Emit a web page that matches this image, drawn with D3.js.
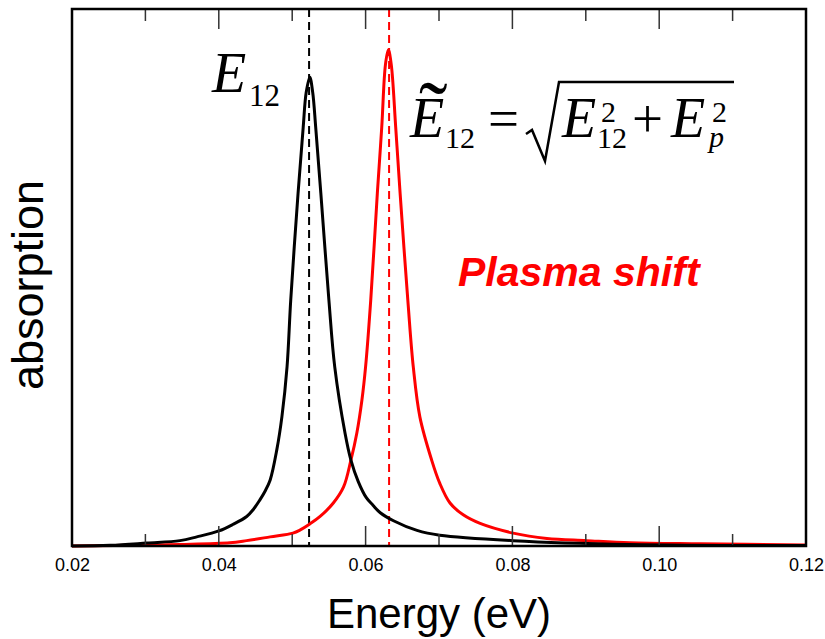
<!DOCTYPE html>
<html>
<head>
<meta charset="utf-8">
<script src="https://cdn.jsdelivr.net/npm/d3@7"></script>
<style>
  html, body { margin: 0; padding: 0; background: #fff; }
  svg { display: block; }
</style>
</head>
<body>
<svg id="chart" width="825" height="639"></svg>
<script>
// ---- data ----
const energyBlack = [0.0200, 0.0252, 0.0302, 0.0347, 0.0370, 0.0400, 0.0419, 0.0438, 0.0447, 0.0456, 0.0463, 0.0470, 0.0479, 0.0486, 0.0493, 0.0498, 0.0508, 0.0515, 0.0519, 0.0524, 0.0528, 0.0532, 0.0539, 0.0550, 0.0558, 0.0572, 0.0580, 0.0590, 0.0601, 0.0610, 0.0620, 0.0638, 0.0670, 0.0701, 0.0801, 0.0960, 0.1200];
const absBlack    = [0.000, 0.0013, 0.0056, 0.010, 0.017, 0.028, 0.040, 0.055, 0.068, 0.086, 0.102, 0.123, 0.179, 0.241, 0.334, 0.458, 0.657, 0.780, 0.844, 0.873, 0.844, 0.780, 0.657, 0.458, 0.333, 0.210, 0.160, 0.120, 0.090, 0.076, 0.062, 0.047, 0.029, 0.020, 0.010, 0.003, 0.001];

const energyRed = [0.0200, 0.0306, 0.0347, 0.0415, 0.0438, 0.0470, 0.0501, 0.0511, 0.0524, 0.0538, 0.0556, 0.0570, 0.0580, 0.0588, 0.0595, 0.0600, 0.0607, 0.0616, 0.0622, 0.0627, 0.0631, 0.0635, 0.0641, 0.0647, 0.0658, 0.0665, 0.0674, 0.0690, 0.0701, 0.0715, 0.0733, 0.0756, 0.0801, 0.0847, 0.0901, 0.0960, 0.1056, 0.1200];
const absRed    = [0.000, 0.002, 0.003, 0.006, 0.010, 0.017, 0.024, 0.030, 0.041, 0.055, 0.080, 0.110, 0.160, 0.210, 0.272, 0.334, 0.458, 0.657, 0.780, 0.896, 0.924, 0.896, 0.780, 0.657, 0.449, 0.333, 0.240, 0.160, 0.117, 0.080, 0.058, 0.042, 0.024, 0.014, 0.010, 0.006, 0.004, 0.002];

const peakBlack = 0.0523;
const peakRed = 0.0632;

const majorTicks = [0.02, 0.04, 0.06, 0.08, 0.10, 0.12];
const majorTickLabels = ["0.02", "0.04", "0.06", "0.08", "0.10", "0.12"];
const minorTicks = [0.03, 0.05, 0.07, 0.09, 0.11];

// ---- layout ----
const svg = d3.select("#chart");
const mLeft = 72, mRight = 806, mTop = 9, mBottom = 546;

const x = d3.scaleLinear().domain([0.02, 0.12]).range([mLeft, mRight]);
const y = d3.scaleLinear().domain([0, 1]).range([mBottom, mTop]);

const line = d3.line().x((d) => x(d[0])).y((d) => y(d[1])).curve(d3.curveCatmullRom.alpha(0.5));

// dashed peak markers
svg.append("line")
  .attr("x1", x(peakBlack)).attr("x2", x(peakBlack))
  .attr("y1", mTop).attr("y2", mBottom)
  .attr("stroke", "#000").attr("stroke-width", 2).attr("stroke-dasharray", "8,5");
svg.append("line")
  .attr("x1", x(peakRed)).attr("x2", x(peakRed))
  .attr("y1", mTop).attr("y2", mBottom)
  .attr("stroke", "#ff0000").attr("stroke-width", 2).attr("stroke-dasharray", "8,5");

// curves
svg.append("path")
  .attr("d", line(energyRed.map((e, i) => [e, absRed[i]])))
  .attr("fill", "none").attr("stroke", "#ff0000").attr("stroke-width", 3);
svg.append("path")
  .attr("d", line(energyBlack.map((e, i) => [e, absBlack[i]])))
  .attr("fill", "none").attr("stroke", "#000").attr("stroke-width", 3);

// bottom axis labels
const xAxisBottom = d3.axisBottom(x)
  .tickValues(majorTicks)
  .tickFormat((d, i) => majorTickLabels[i])
  .tickSize(0).tickPadding(12);
const gB = svg.append("g").attr("transform", `translate(0,${mBottom})`).call(xAxisBottom);
gB.select(".domain").remove();
gB.selectAll("text").attr("font-family", "Liberation Sans, Arial, sans-serif").attr("font-size", 18).attr("fill", "#000");

// inward ticks (bottom and top)
const tickG = svg.append("g").attr("stroke", "#333").attr("stroke-width", 1.5);
majorTicks.forEach((t) => {
  tickG.append("line").attr("x1", x(t)).attr("x2", x(t)).attr("y1", mBottom).attr("y2", mBottom - 20);
  tickG.append("line").attr("x1", x(t)).attr("x2", x(t)).attr("y1", mTop).attr("y2", mTop + 20);
});
minorTicks.forEach((t) => {
  tickG.append("line").attr("x1", x(t)).attr("x2", x(t)).attr("y1", mBottom).attr("y2", mBottom - 12);
  tickG.append("line").attr("x1", x(t)).attr("x2", x(t)).attr("y1", mTop).attr("y2", mTop + 12);
});

// frame
svg.append("rect")
  .attr("x", mLeft).attr("y", mTop)
  .attr("width", mRight - mLeft).attr("height", mBottom - mTop)
  .attr("fill", "none").attr("stroke", "#000").attr("stroke-width", 2.5);

// axis titles
svg.append("text")
  .attr("x", (mLeft + mRight) / 2).attr("y", 628)
  .attr("text-anchor", "middle")
  .attr("font-family", "Liberation Sans, Arial, sans-serif").attr("font-size", 42)
  .text("Energy (eV)");
svg.append("text")
  .attr("transform", `translate(43,${285}) rotate(-90)`)
  .attr("text-anchor", "middle")
  .attr("font-family", "Liberation Sans, Arial, sans-serif").attr("font-size", 45)
  .text("absorption");

// E12 label
const serif = "Liberation Serif, Times New Roman, serif";
svg.append("text").attr("font-family", serif).attr("x", 212).attr("y", 92)
  .attr("font-size", 56).attr("font-style", "italic").text("E");
svg.append("text").attr("font-family", serif).attr("x", 249).attr("y", 106)
  .attr("font-size", 31).text("12");

// Formula
const f = svg.append("g").attr("font-family", serif).attr("fill", "#000");
f.append("text").attr("x", 410).attr("y", 137).attr("font-size", 56).attr("font-style", "italic").text("E");
f.append("text").attr("x", 419).attr("y", 142).attr("font-size", 86).text("˜");
f.append("text").attr("x", 445).attr("y", 148).attr("font-size", 30).text("12");
f.append("text").attr("x", 488).attr("y", 137).attr("font-size", 55).text("=");
// radical sign
f.append("path")
  .attr("d", "M526,134 L532,130 L545,161 L559,82 L734,82")
  .attr("fill", "none").attr("stroke", "#000").attr("stroke-width", 2.5).attr("stroke-linejoin", "miter");
f.append("text").attr("x", 562).attr("y", 137).attr("font-size", 56).attr("font-style", "italic").text("E");
f.append("text").attr("x", 601).attr("y", 122).attr("font-size", 30).text("2");
f.append("text").attr("x", 597).attr("y", 148).attr("font-size", 30).text("12");
f.append("text").attr("x", 632).attr("y", 137).attr("font-size", 55).text("+");
f.append("text").attr("x", 671).attr("y", 137).attr("font-size", 56).attr("font-style", "italic").text("E");
f.append("text").attr("x", 712).attr("y", 122).attr("font-size", 30).text("2");
f.append("text").attr("x", 709).attr("y", 147).attr("font-size", 30).attr("font-style", "italic").text("p");

// Plasma shift
svg.append("text")
  .attr("x", 458).attr("y", 286)
  .attr("font-family", "Liberation Sans, Arial, sans-serif")
  .attr("font-size", 41).attr("font-weight", "bold").attr("font-style", "italic")
  .attr("fill", "#ff0000")
  .text("Plasma shift");
</script>
</body>
</html>
